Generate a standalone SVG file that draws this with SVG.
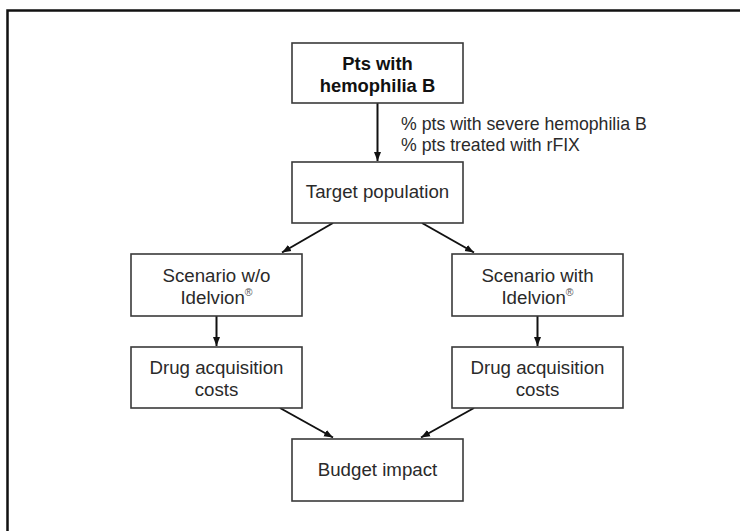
<svg xmlns="http://www.w3.org/2000/svg" width="740" height="531" viewBox="0 0 740 531">
  <style>
    .box { fill: #ffffff; stroke: #3a3a3a; stroke-width: 1.6; }
    .t { font-family: "Liberation Sans", Arial, Helvetica, sans-serif; font-size: 18.7px; fill: #2a2a2a; text-anchor: middle; }
    .b { font-weight: bold; font-size: 18.4px; fill: #111; }
    .lbl { font-family: "Liberation Sans", Arial, Helvetica, sans-serif; font-size: 17.7px; fill: #2a2a2a; }
    .sup { font-size: 10.5px; fill: #555; }
    .edge { fill: none; stroke: #111; stroke-width: 2; marker-end: url(#arr); }
    .frame { fill: none; stroke: #111; stroke-width: 2.5; }
  </style>
  <defs>
    <marker id="arr" markerUnits="userSpaceOnUse" markerWidth="10" markerHeight="8" refX="9" refY="4" orient="auto">
      <path d="M0,0.5 L9,4 L0,7.5 z" fill="#111"/>
    </marker>
  </defs>
  <rect width="740" height="531" fill="#ffffff"/>
  <path class="frame" d="M7.5,531 V10.5 H740"/>

  <g id="connectors">
    <line class="edge" x1="377.5" y1="103" x2="377.5" y2="161"/>
    <line class="edge" x1="333" y1="223" x2="282" y2="252.5"/>
    <line class="edge" x1="422" y1="223" x2="474" y2="252.5"/>
    <line class="edge" x1="216.5" y1="316" x2="216.5" y2="346"/>
    <line class="edge" x1="537.5" y1="316" x2="537.5" y2="346"/>
    <line class="edge" x1="280" y1="408" x2="333" y2="437.5"/>
    <line class="edge" x1="474" y1="408" x2="421" y2="437.5"/>
    <text class="lbl" x="401" y="129.5">% pts with severe hemophilia B</text>
    <text class="lbl" x="401" y="151">% pts treated with rFIX</text>
  </g>

  <g id="pts">
    <rect class="box" x="292" y="43" width="171" height="60"/>
    <text class="t b" x="377.5" y="69.5">Pts with</text>
    <text class="t b" x="377.5" y="91.5">hemophilia B</text>
  </g>
  <g id="target">
    <rect class="box" x="292" y="162" width="171" height="61"/>
    <text class="t" x="377.5" y="197.5">Target population</text>
  </g>
  <g id="scenario-without">
    <rect class="box" x="131" y="254" width="171" height="62"/>
    <text class="t" x="216.5" y="281.5">Scenario w/o</text>
    <text class="t" x="216.5" y="304">Idelvion<tspan class="sup" dy="-8">®</tspan></text>
  </g>
  <g id="scenario-with">
    <rect class="box" x="452" y="254" width="171" height="62"/>
    <text class="t" x="537.5" y="281.5">Scenario with</text>
    <text class="t" x="537.5" y="304">Idelvion<tspan class="sup" dy="-8">®</tspan></text>
  </g>
  <g id="drug-left">
    <rect class="box" x="131" y="347" width="171" height="61"/>
    <text class="t" x="216.5" y="374">Drug acquisition</text>
    <text class="t" x="216.5" y="396">costs</text>
  </g>
  <g id="drug-right">
    <rect class="box" x="452" y="347" width="171" height="61"/>
    <text class="t" x="537.5" y="374">Drug acquisition</text>
    <text class="t" x="537.5" y="396">costs</text>
  </g>
  <g id="budget">
    <rect class="box" x="292" y="439" width="171" height="62"/>
    <text class="t" x="377.5" y="476">Budget impact</text>
  </g>
</svg>
